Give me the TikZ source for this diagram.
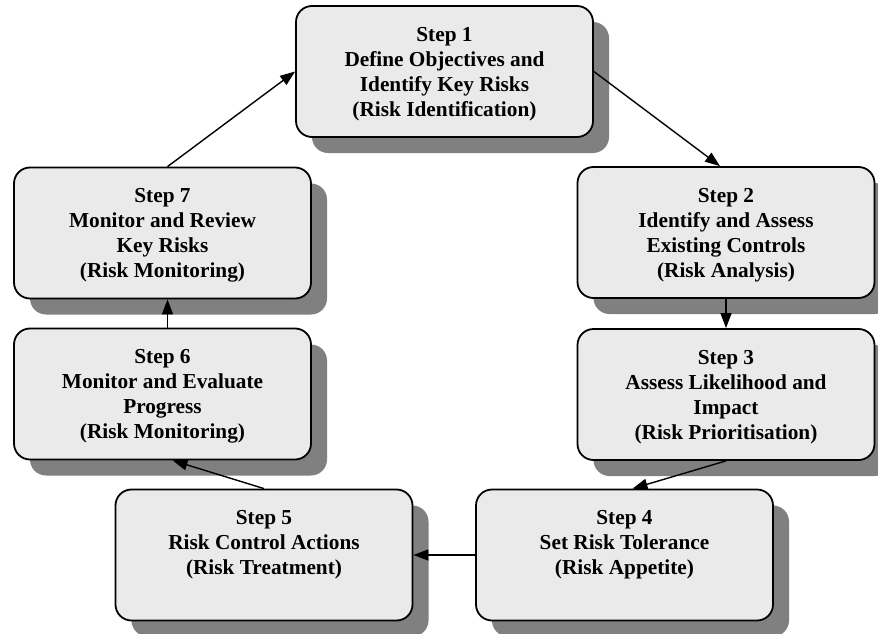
\documentclass[tikz,border=0pt]{standalone}
\usepackage{fontspec}
\setmainfont{Liberation Serif}
\usetikzlibrary{arrows.meta,shadows}
\definecolor{boxgray}{RGB}{234,234,234}
\definecolor{shadowgray}{RGB}{128,128,128}
\tikzstyle{stp} = [draw=black, line width=1.8pt, fill=boxgray, rectangle, rounded corners=16pt, inner sep=0pt, drop shadow={shadow xshift=16pt, shadow yshift=-16pt, fill=shadowgray, opacity=1}]
\tikzstyle{arr} = [-{Triangle[length=15pt,width=11pt]}, line width=1.4pt]
\newcommand{\stepbody}[1]{%
	\begin{minipage}[c][131pt][t]{297pt}
	\centering\fontsize{21.3}{25}\selectfont\bfseries
	\vspace*{21pt}#1
	\end{minipage}}

\begin{document}
\begin{tikzpicture}[x=1pt,y=-1pt]
	\useasboundingbox (0,0) rectangle (878,634);
	
	\node [stp] (s1) at (444.5,71.5){%
		\stepbody{Step 1\\Define Objectives and\\Identify Key Risks\\(Risk Identification)}
	};
	\node [stp] (s2) at (726,232.5){%
		\stepbody{Step 2\\Identify and Assess\\Existing Controls\\(Risk Analysis)}
	};
	\node [stp] (s3) at (726,394.5){%
		\stepbody{Step 3\\Assess Likelihood and\\Impact\\(Risk Prioritisation)}
	};
	\node [stp] (s4) at (624.5,555){%
		\stepbody{Step 4\\Set Risk Tolerance\\(Risk Appetite)}
	};
	\node [stp] (s5) at (264,555){%
		\stepbody{Step 5\\Risk Control Actions\\(Risk Treatment)}
	};
	\node [stp] (s6) at (162.5,394){%
		\stepbody{Step 6\\Monitor and Evaluate\\Progress\\(Risk Monitoring)}
	};
	\node [stp] (s7) at (162.5,233){%
		\stepbody{Step 7\\Monitor and Review\\Key Risks\\(Risk Monitoring)}
	};
	
	% the cycle
	\draw [arr] (s1.east) -- ([xshift=-6pt]s2.north);
	\draw [arr] (s2.south) -- (s3.north);
	\draw [arr] (s3.south) -- ([xshift=8pt]s4.north);
	\draw [arr] (s4.west) -- (s5.east);
	\draw [arr] (s5.north) -- ([xshift=10pt]s6.south);
	\draw [arr] ([xshift=5pt]s6.north) -- ([xshift=5pt]s7.south);
	\draw [arr] ([xshift=5pt]s7.north) -- (s1.west);
\end{tikzpicture}
\end{document}
